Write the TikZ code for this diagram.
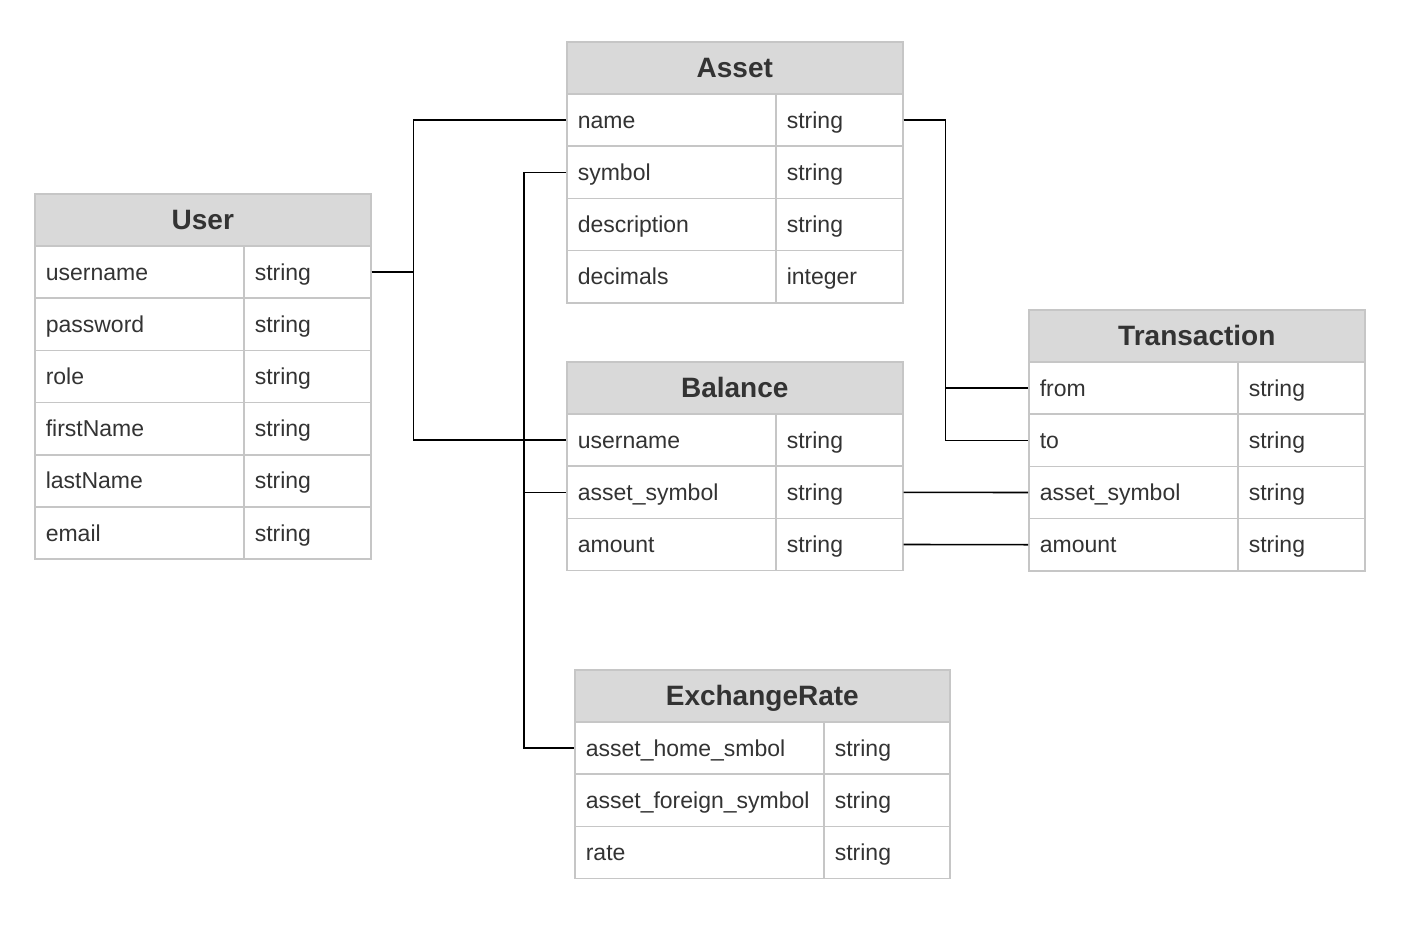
\documentclass[tikz,border=0pt]{standalone}
\usepackage{fontspec}
\setmainfont{Liberation Sans}
\definecolor{hdrfill}{HTML}{D9D9D9}
\definecolor{cellline}{HTML}{C6C6C6}
\definecolor{txt}{HTML}{333333}
\tikzset{
  hdr/.style={draw=cellline, line width=1.6pt, fill=hdrfill, minimum height=52.2pt, inner sep=0pt,
    text height=23pt, text depth=3pt, text=txt, font=\fontsize{28}{32}\selectfont\bfseries},
  cell/.style={draw=cellline, line width=1.6pt, fill=white, minimum height=52.2pt, inner xsep=11pt, inner ysep=0pt,
    text height=19pt, text depth=3pt, align=left, text=txt, font=\fontsize{23}{27}\selectfont},
  link/.style={draw=black, line width=1.6pt}
}
\newcommand\ertab[7]{%
  \node[hdr, minimum width=#4pt, anchor=north west] (#1) at (#2,#3) {#6};
  \pgfmathsetmacro\twa{#5-22}%
  \pgfmathsetmacro\twb{#4-#5-22}%
  \pgfmathsetmacro\xb{#2+#5}%
  \foreach \fn/\ft [count=\i] in {#7} {
    \pgfmathsetmacro\yy{#3+\i*52.2}
    \node[cell, text width=\twa pt, anchor=north west] (#1-n\i) at (#2,\yy) {\fn};
    \node[cell, text width=\twb pt, anchor=north west] (#1-t\i) at (\xb,\yy) {\ft};
  }%
}
\begin{document}
\begin{tikzpicture}[x=1pt,y=-1pt]
\useasboundingbox[fill=white] (0,0) rectangle (1406,929);
\ertab{user}{34}{193}{336}{209}{User}{username/string,password/string,role/string,firstName/string,lastName/string,email/string}
\ertab{asset}{566}{41}{336}{209}{Asset}{name/string,symbol/string,description/string,decimals/integer}
\ertab{bal}{566}{361}{336}{209}{Balance}{username/string,asset\_symbol/string,amount/string}
\ertab{tx}{1028}{309}{336}{209}{Transaction}{from/string,to/string,asset\_symbol/string,amount/string}
\ertab{xr}{574}{669}{375}{249}{ExchangeRate}{asset\_home\_smbol/string,asset\_foreign\_symbol/string,rate/string}
% connectors
\draw[link] (user-t1.east) -- ++(42,0) |- (asset-n1.west);
\draw[link] (user-t1.east) -- ++(42,0) |- (bal-n1.west);
\draw[link] (asset-n2.west) -- ++(-42,0) |- (xr-n1.west);
\draw[link] (asset-n2.west) -- ++(-42,0) |- (bal-n2.west);
\draw[link] (asset-t1.east) -- ++(42,0) |- (tx-n1.west);
\draw[link] (asset-t1.east) -- ++(42,0) |- (tx-n2.west);
\draw[link] (bal-t2.east) -- (tx-n3.west);
\draw[link] (bal-t3.east) -- (tx-n4.west);
\end{tikzpicture}
\end{document}
